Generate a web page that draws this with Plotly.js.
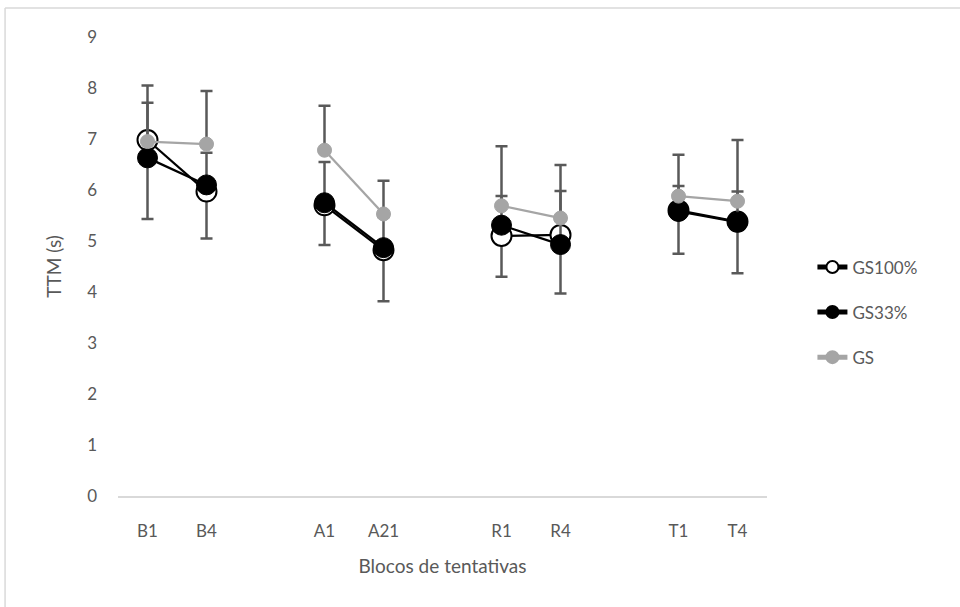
<!DOCTYPE html>
<html>
<head>
<meta charset="utf-8">
<script src="https://cdn.plot.ly/plotly-3.0.1.min.js"></script>
<style>html,body{margin:0;padding:0;background:#fff;}#chart{width:960px;height:607px;}</style>
</head>
<body>
<div id="chart"></div>
<script>
// Categories (blank spacer categories separate the groups)
var categories = ['B1', 'B4', ' ', 'A1', 'A21', '  ', 'R1', 'R4', '   ', 'T1', 'T4'];

// Series values (null = spacer)
var gs100 = [6.98, 5.97, null, 5.70, 4.82, null, 5.10, 5.12, null, 5.60, 5.38];
var gs33  = [6.63, 6.10, null, 5.75, 4.87, null, 5.31, 4.93, null, 5.58, 5.37];
var gs    = [6.95, 6.90, null, 6.78, 5.53, null, 5.69, 5.45, null, 5.88, 5.78];

// Error bars (one-sided, as in the reference)
var gs100Minus = [1.55, 0.92, null, 0.78, 1.00, null, 0.80, 1.15, null, 0.85, 1.01];
var gs33Plus   = [1.08, 0.63, null, 0.80, 0.60, null, 0.57, 1.05, null, 0.50, 0.60];
var gsPlus     = [1.10, 1.04, null, 0.87, 0.65, null, 1.17, 1.04, null, 0.81, 1.20];

function zerosLike(a) { return a.map(function (v) { return v === null ? null : 0; }); }

var errStyle = { color: '#595959', thickness: 2.5, width: 6 };

var traces = [
  {
    name: 'GS100%', x: categories, y: gs100, type: 'scatter', mode: 'lines+markers',
    legendgroup: 'a',
    line: { color: '#000000', width: 2.25 },
    marker: { size: 20, color: '#ffffff', line: { color: '#000000', width: 2 } },
    error_y: Object.assign({ type: 'data', symmetric: false, array: zerosLike(gs100Minus), arrayminus: gs100Minus }, errStyle)
  },
  {
    name: 'GS33%', x: categories, y: gs33, type: 'scatter', mode: 'lines+markers',
    legendgroup: 'b',
    line: { color: '#000000', width: 2.25 },
    marker: { size: 20, color: '#000000', line: { color: '#000000', width: 1 } },
    error_y: Object.assign({ type: 'data', symmetric: false, array: gs33Plus, arrayminus: zerosLike(gs33Plus) }, errStyle)
  },
  {
    name: 'GS', x: categories, y: gs, type: 'scatter', mode: 'lines+markers',
    legendgroup: 'c',
    line: { color: '#a5a5a5', width: 2.25 },
    marker: { size: 14, color: '#a5a5a5', line: { color: '#a5a5a5', width: 1 } },
    error_y: Object.assign({ type: 'data', symmetric: false, array: gsPlus, arrayminus: zerosLike(gsPlus) }, errStyle)
  }
];

var fontFam = 'Lato, "Open Sans", sans-serif';

var layout = {
  width: 960, height: 607,
  margin: { l: 118, r: 193, t: 37, b: 111 },
  paper_bgcolor: '#ffffff', plot_bgcolor: '#ffffff',
  font: { family: fontFam, color: '#595959', size: 17 },
  showlegend: true,
  legend: {
    x: 1.07, y: 0.40, xanchor: 'left', yanchor: 'middle',
    bgcolor: 'rgba(0,0,0,0)', font: { size: 17, color: '#595959' },
    itemsizing: 'constant', traceorder: 'grouped', tracegroupgap: 20
  },
  xaxis: {
    type: 'category', categoryorder: 'array', categoryarray: categories,
    range: [-0.5, categories.length - 0.5],
    showgrid: false, zeroline: false, showline: true, linecolor: '#d9d9d9', linewidth: 1.5,
    ticks: '', ticklabelstandoff: 19, tickfont: { size: 17, color: '#595959' },
    title: { text: 'Blocos de tentativas', font: { size: 19, color: '#595959' }, standoff: 20 },
    fixedrange: true
  },
  yaxis: {
    range: [0, 9], dtick: 1, tick0: 0,
    showgrid: false, zeroline: false, showline: false,
    ticks: '', ticklabelstandoff: 20, tickfont: { size: 17, color: '#595959' },
    title: { text: 'TTM (s)', font: { size: 19, color: '#595959' }, standoff: 20 },
    fixedrange: true
  },
  shapes: [
    { type: 'line', xref: 'paper', yref: 'paper', x0: -0.174, x1: 1.31, y0: 1.063, y1: 1.063,
      line: { color: '#d9d9d9', width: 1.5 } },
    { type: 'line', xref: 'paper', yref: 'paper', x0: -0.174, x1: -0.174, y0: 1.063, y1: -0.26,
      line: { color: '#d9d9d9', width: 1.5 } }
  ]
};

Plotly.newPlot('chart', traces, layout, { displayModeBar: false, staticPlot: true });
</script>
</body>
</html>
